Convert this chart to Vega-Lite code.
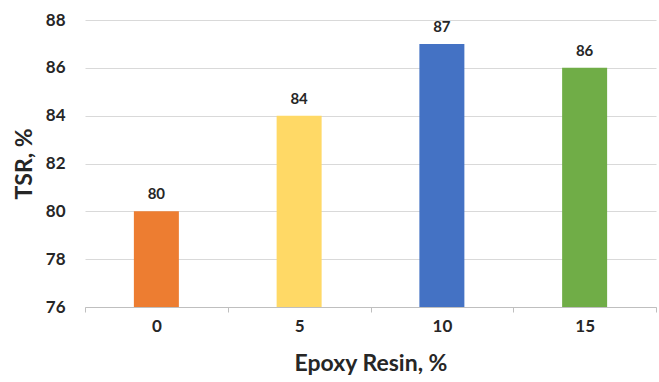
{
  "$schema": "https://vega.github.io/schema/vega-lite/v6.json",
  "width": 571,
  "height": 287,
  "autosize": "none",
  "padding": {"left": 85, "top": 20, "right": 3, "bottom": 75},
  "background": "white",
  "config": {"view": {"stroke": null}, "font": "Lato"},
  "data": {"values": [
    {"resin": "0", "tsr": 80, "color": "#ED7D31"},
    {"resin": "5", "tsr": 84, "color": "#FFD966"},
    {"resin": "10", "tsr": 87, "color": "#4472C4"},
    {"resin": "15", "tsr": 86, "color": "#70AD47"}
  ]},
  "encoding": {
    "x": {"field": "resin", "type": "ordinal", "sort": null,
      "scale": {"paddingInner": 0, "paddingOuter": 0},
      "axis": {"title": "Epoxy Resin, %", "labelAngle": 0, "tickBand": "extent",
        "labelFont": "Lato", "labelFontWeight": "bold", "labelFontSize": 17, "labelColor": "#262626",
        "labelPadding": 6, "tickSize": 5, "tickColor": "#BFBFBF", "domainColor": "#BFBFBF",
        "titleFont": "Lato", "titleFontSize": 23, "titleFontWeight": "bold", "titleColor": "#262626",
        "titlePadding": 18}},
    "y": {"field": "tsr", "type": "quantitative",
      "scale": {"domain": [76, 88], "zero": false},
      "axis": {"title": "TSR, %", "values": [76, 78, 80, 82, 84, 86, 88], "domain": false, "ticks": false,
        "gridColor": "#D9D9D9", "labelFont": "Lato", "labelFontWeight": "bold", "labelFontSize": 17,
        "labelColor": "#262626", "labelPadding": 20,
        "titleFont": "Lato", "titleFontSize": 23, "titleFontWeight": "bold", "titleColor": "#262626",
        "titlePadding": 9}}
  },
  "layer": [
    {"mark": {"type": "bar", "size": 45, "clip": true},
      "encoding": {"color": {"field": "color", "type": "nominal", "scale": null}}},
    {"mark": {"type": "text", "baseline": "bottom", "dy": -9, "font": "Lato", "fontWeight": "bold", "fontSize": 15, "color": "#262626"},
      "encoding": {"text": {"field": "tsr", "type": "quantitative"}}}
  ]
}
